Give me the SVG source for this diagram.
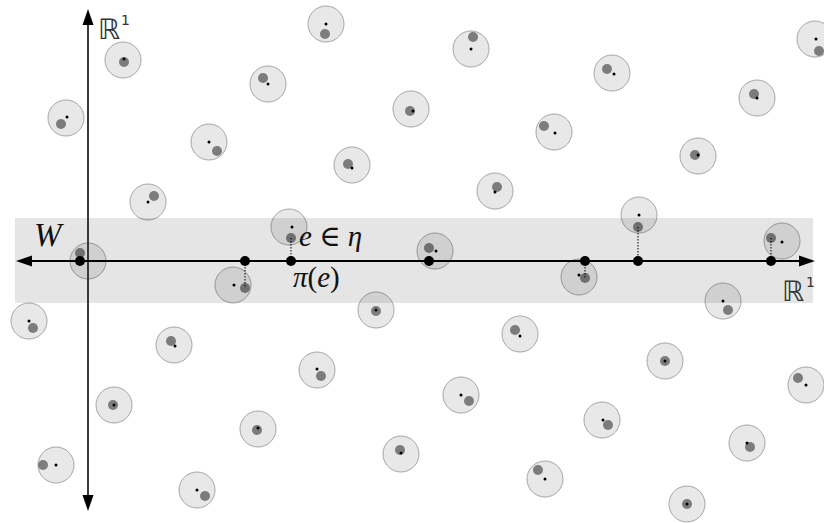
<svg xmlns="http://www.w3.org/2000/svg" width="824" height="523" viewBox="0 0 824 523">
<style>
.c{fill:#e8e8e8;stroke:#a6a6a6;stroke-width:1}
.g{fill:#7c7c7c}
.k{fill:#000}
.band{fill:#000;fill-opacity:0.1}
.dot{fill:#000}
.dotted{stroke:#000;stroke-width:1;stroke-dasharray:1.5,1.5;fill:none}
.lbl{font-family:"Liberation Serif","DejaVu Serif",serif;font-style:italic;fill:#111}
.rr{font-family:"DejaVu Sans","Noto Sans",sans-serif;fill:#333}
</style>
<g id="points">
<g id="p1"><circle class="c" cx="123" cy="60" r="18"/><circle class="g" cx="124" cy="62" r="5"/><circle class="k" cx="124" cy="59" r="1.5"/></g>
<g id="p2"><circle class="c" cx="66" cy="118" r="18"/><circle class="g" cx="61" cy="124" r="5"/><circle class="k" cx="67" cy="117" r="1.5"/></g>
<g id="p3"><circle class="c" cx="326" cy="24" r="18"/><circle class="g" cx="325" cy="34" r="5"/><circle class="k" cx="326" cy="24" r="1.5"/></g>
<g id="p4"><circle class="c" cx="268" cy="84" r="18"/><circle class="g" cx="263" cy="78" r="5"/><circle class="k" cx="268" cy="84" r="1.5"/></g>
<g id="p5"><circle class="c" cx="209" cy="142" r="18"/><circle class="g" cx="217" cy="151" r="5"/><circle class="k" cx="209" cy="142" r="1.5"/></g>
<g id="p6"><circle class="c" cx="352" cy="165" r="18"/><circle class="g" cx="348" cy="164" r="5"/><circle class="k" cx="352" cy="168" r="1.5"/></g>
<g id="p7"><circle class="c" cx="411" cy="109" r="18"/><circle class="g" cx="410" cy="111" r="5"/><circle class="k" cx="413" cy="111" r="1.5"/></g>
<g id="p8"><circle class="c" cx="471" cy="49" r="18"/><circle class="g" cx="473" cy="37" r="5"/><circle class="k" cx="471" cy="49" r="1.5"/></g>
<g id="p9"><circle class="c" cx="612" cy="73" r="18"/><circle class="g" cx="607" cy="69" r="5"/><circle class="k" cx="614" cy="74" r="1.5"/></g>
<g id="p10"><circle class="c" cx="554" cy="132" r="18"/><circle class="g" cx="544" cy="126" r="5"/><circle class="k" cx="555" cy="133" r="1.5"/></g>
<g id="p11"><circle class="c" cx="815" cy="39" r="18"/><circle class="g" cx="819" cy="51" r="5"/><circle class="k" cx="816" cy="39" r="1.5"/></g>
<g id="p12"><circle class="c" cx="757" cy="98" r="18"/><circle class="g" cx="754" cy="94" r="5"/><circle class="k" cx="757" cy="98" r="1.5"/></g>
<g id="p13"><circle class="c" cx="698" cy="156" r="18"/><circle class="g" cx="695" cy="155" r="5"/><circle class="k" cx="698" cy="155" r="1.5"/></g>
<g id="p14"><circle class="c" cx="148" cy="202" r="18"/><circle class="g" cx="154" cy="196" r="5"/><circle class="k" cx="148" cy="202" r="1.5"/></g>
<g id="p15"><circle class="c" cx="495" cy="191" r="18"/><circle class="g" cx="497" cy="187" r="5"/><circle class="k" cx="495" cy="192" r="1.5"/></g>
<g id="p16"><circle class="c" cx="88" cy="261" r="18"/><circle class="g" cx="80" cy="253" r="5"/></g>
<g id="p17"><circle class="c" cx="289" cy="227" r="18"/><circle class="g" cx="291" cy="238" r="5"/><circle class="k" cx="292" cy="227" r="1.5"/></g>
<g id="p18"><circle class="c" cx="233" cy="285" r="18"/><circle class="g" cx="245" cy="288" r="5"/><circle class="k" cx="234" cy="285" r="1.5"/></g>
<g id="p19"><circle class="c" cx="435" cy="251" r="18"/><circle class="g" cx="429" cy="248" r="5"/><circle class="k" cx="436" cy="251" r="1.5"/></g>
<g id="p20"><circle class="c" cx="579" cy="277" r="18"/><circle class="g" cx="585" cy="278" r="5"/><circle class="k" cx="579" cy="275" r="1.5"/></g>
<g id="p21"><circle class="c" cx="639" cy="215" r="18"/><circle class="g" cx="638" cy="227" r="5"/><circle class="k" cx="639" cy="215" r="1.5"/></g>
<g id="p22"><circle class="c" cx="782" cy="241" r="18"/><circle class="g" cx="771" cy="238" r="5"/><circle class="k" cx="782" cy="242" r="1.5"/></g>
<g id="p23"><circle class="c" cx="723" cy="301" r="18"/><circle class="g" cx="728" cy="310" r="5"/><circle class="k" cx="723" cy="301" r="1.5"/></g>
<g id="p24"><circle class="c" cx="29" cy="321" r="18"/><circle class="g" cx="33" cy="328" r="5"/><circle class="k" cx="29" cy="321" r="1.5"/></g>
<g id="p25"><circle class="c" cx="174" cy="345" r="18"/><circle class="g" cx="171" cy="341" r="5"/><circle class="k" cx="175" cy="346" r="1.5"/></g>
<g id="p26"><circle class="c" cx="376" cy="310" r="18"/><circle class="g" cx="376" cy="311" r="5"/><circle class="k" cx="376" cy="310" r="1.5"/></g>
<g id="p27"><circle class="c" cx="520" cy="334" r="18"/><circle class="g" cx="515" cy="330" r="5"/><circle class="k" cx="520" cy="336" r="1.5"/></g>
<g id="p28"><circle class="c" cx="665" cy="361" r="18"/><circle class="g" cx="665" cy="361" r="5"/><circle class="k" cx="665" cy="361" r="1.5"/></g>
<g id="p29"><circle class="c" cx="806" cy="385" r="18"/><circle class="g" cx="798" cy="378" r="5"/><circle class="k" cx="806" cy="385" r="1.5"/></g>
<g id="p30"><circle class="c" cx="317" cy="370" r="18"/><circle class="g" cx="321" cy="376" r="5"/><circle class="k" cx="317" cy="369" r="1.5"/></g>
<g id="p31"><circle class="c" cx="114" cy="405" r="18"/><circle class="g" cx="113" cy="405" r="5"/><circle class="k" cx="114" cy="405" r="1.5"/></g>
<g id="p32"><circle class="c" cx="258" cy="429" r="18"/><circle class="g" cx="257" cy="430" r="5"/><circle class="k" cx="258" cy="428" r="1.5"/></g>
<g id="p33"><circle class="c" cx="401" cy="454" r="18"/><circle class="g" cx="400" cy="450" r="5"/><circle class="k" cx="401" cy="453" r="1.5"/></g>
<g id="p34"><circle class="c" cx="461" cy="395" r="18"/><circle class="g" cx="469" cy="401" r="5"/><circle class="k" cx="461" cy="395" r="1.5"/></g>
<g id="p35"><circle class="c" cx="602" cy="420" r="18"/><circle class="g" cx="608" cy="425" r="5"/><circle class="k" cx="603" cy="420" r="1.5"/></g>
<g id="p36"><circle class="c" cx="545" cy="479" r="18"/><circle class="g" cx="538" cy="470" r="5"/><circle class="k" cx="545" cy="479" r="1.5"/></g>
<g id="p37"><circle class="c" cx="747" cy="443" r="18"/><circle class="g" cx="750" cy="447" r="5"/><circle class="k" cx="747" cy="443" r="1.5"/></g>
<g id="p38"><circle class="c" cx="687" cy="504" r="18"/><circle class="g" cx="687" cy="504" r="5"/><circle class="k" cx="687" cy="504" r="1.5"/></g>
<g id="p39"><circle class="c" cx="56" cy="465" r="18"/><circle class="g" cx="43" cy="465" r="5"/><circle class="k" cx="56" cy="465" r="1.5"/></g>
<g id="p40"><circle class="c" cx="197" cy="490" r="18"/><circle class="g" cx="205" cy="496" r="5"/><circle class="k" cx="197" cy="490" r="1.5"/></g>
</g>
<g id="window"><rect class="band" x="15" y="218" width="798" height="85"/></g>
<g id="connectors">
<line x1="88" y1="24" x2="88" y2="496" stroke="#3a3a3a" stroke-width="2"/>
<polygon points="88,9 82.5,25 93.5,25" fill="#000"/>
<polygon points="88,511 82.5,495 93.5,495" fill="#000"/>
<line x1="30" y1="261" x2="801" y2="261" stroke="#000" stroke-width="2"/>
<polygon points="16,261 32,255.5 32,266.5" fill="#000"/>
<polygon points="815,261 799,255.5 799,266.5" fill="#000"/>
<line class="dotted" x1="245" y1="261" x2="245" y2="288"/>
<line class="dotted" x1="291" y1="238" x2="291" y2="261"/>
<line class="dotted" x1="585" y1="261" x2="585" y2="278"/>
<line class="dotted" x1="638" y1="227" x2="638" y2="261"/>
<line class="dotted" x1="771" y1="238" x2="771" y2="261"/>
</g>
<g id="projections">
<circle class="dot" cx="80" cy="261" r="5"/>
<circle class="dot" cx="245" cy="261" r="5"/>
<circle class="dot" cx="291" cy="261" r="5"/>
<circle class="dot" cx="429" cy="261" r="5"/>
<circle class="dot" cx="585" cy="261" r="5"/>
<circle class="dot" cx="638" cy="261" r="5"/>
<circle class="dot" cx="771" cy="261" r="5"/>
</g>
<g id="labels">
<text class="rr" x="98" y="39" font-size="28">ℝ</text>
<text class="rr" x="121" y="25" font-size="14">1</text>
<text class="rr" x="782" y="301" font-size="28">ℝ</text>
<text class="rr" x="806" y="287" font-size="14">1</text>
<text class="lbl" x="34" y="246" font-size="33">W</text>
<text class="lbl" x="299" y="246" font-size="29">e <tspan font-style="normal">∈</tspan> η</text>
<text class="lbl" x="293" y="287" font-size="29">π<tspan font-style="normal">(</tspan>e<tspan font-style="normal">)</tspan></text>
</g>
</svg>
